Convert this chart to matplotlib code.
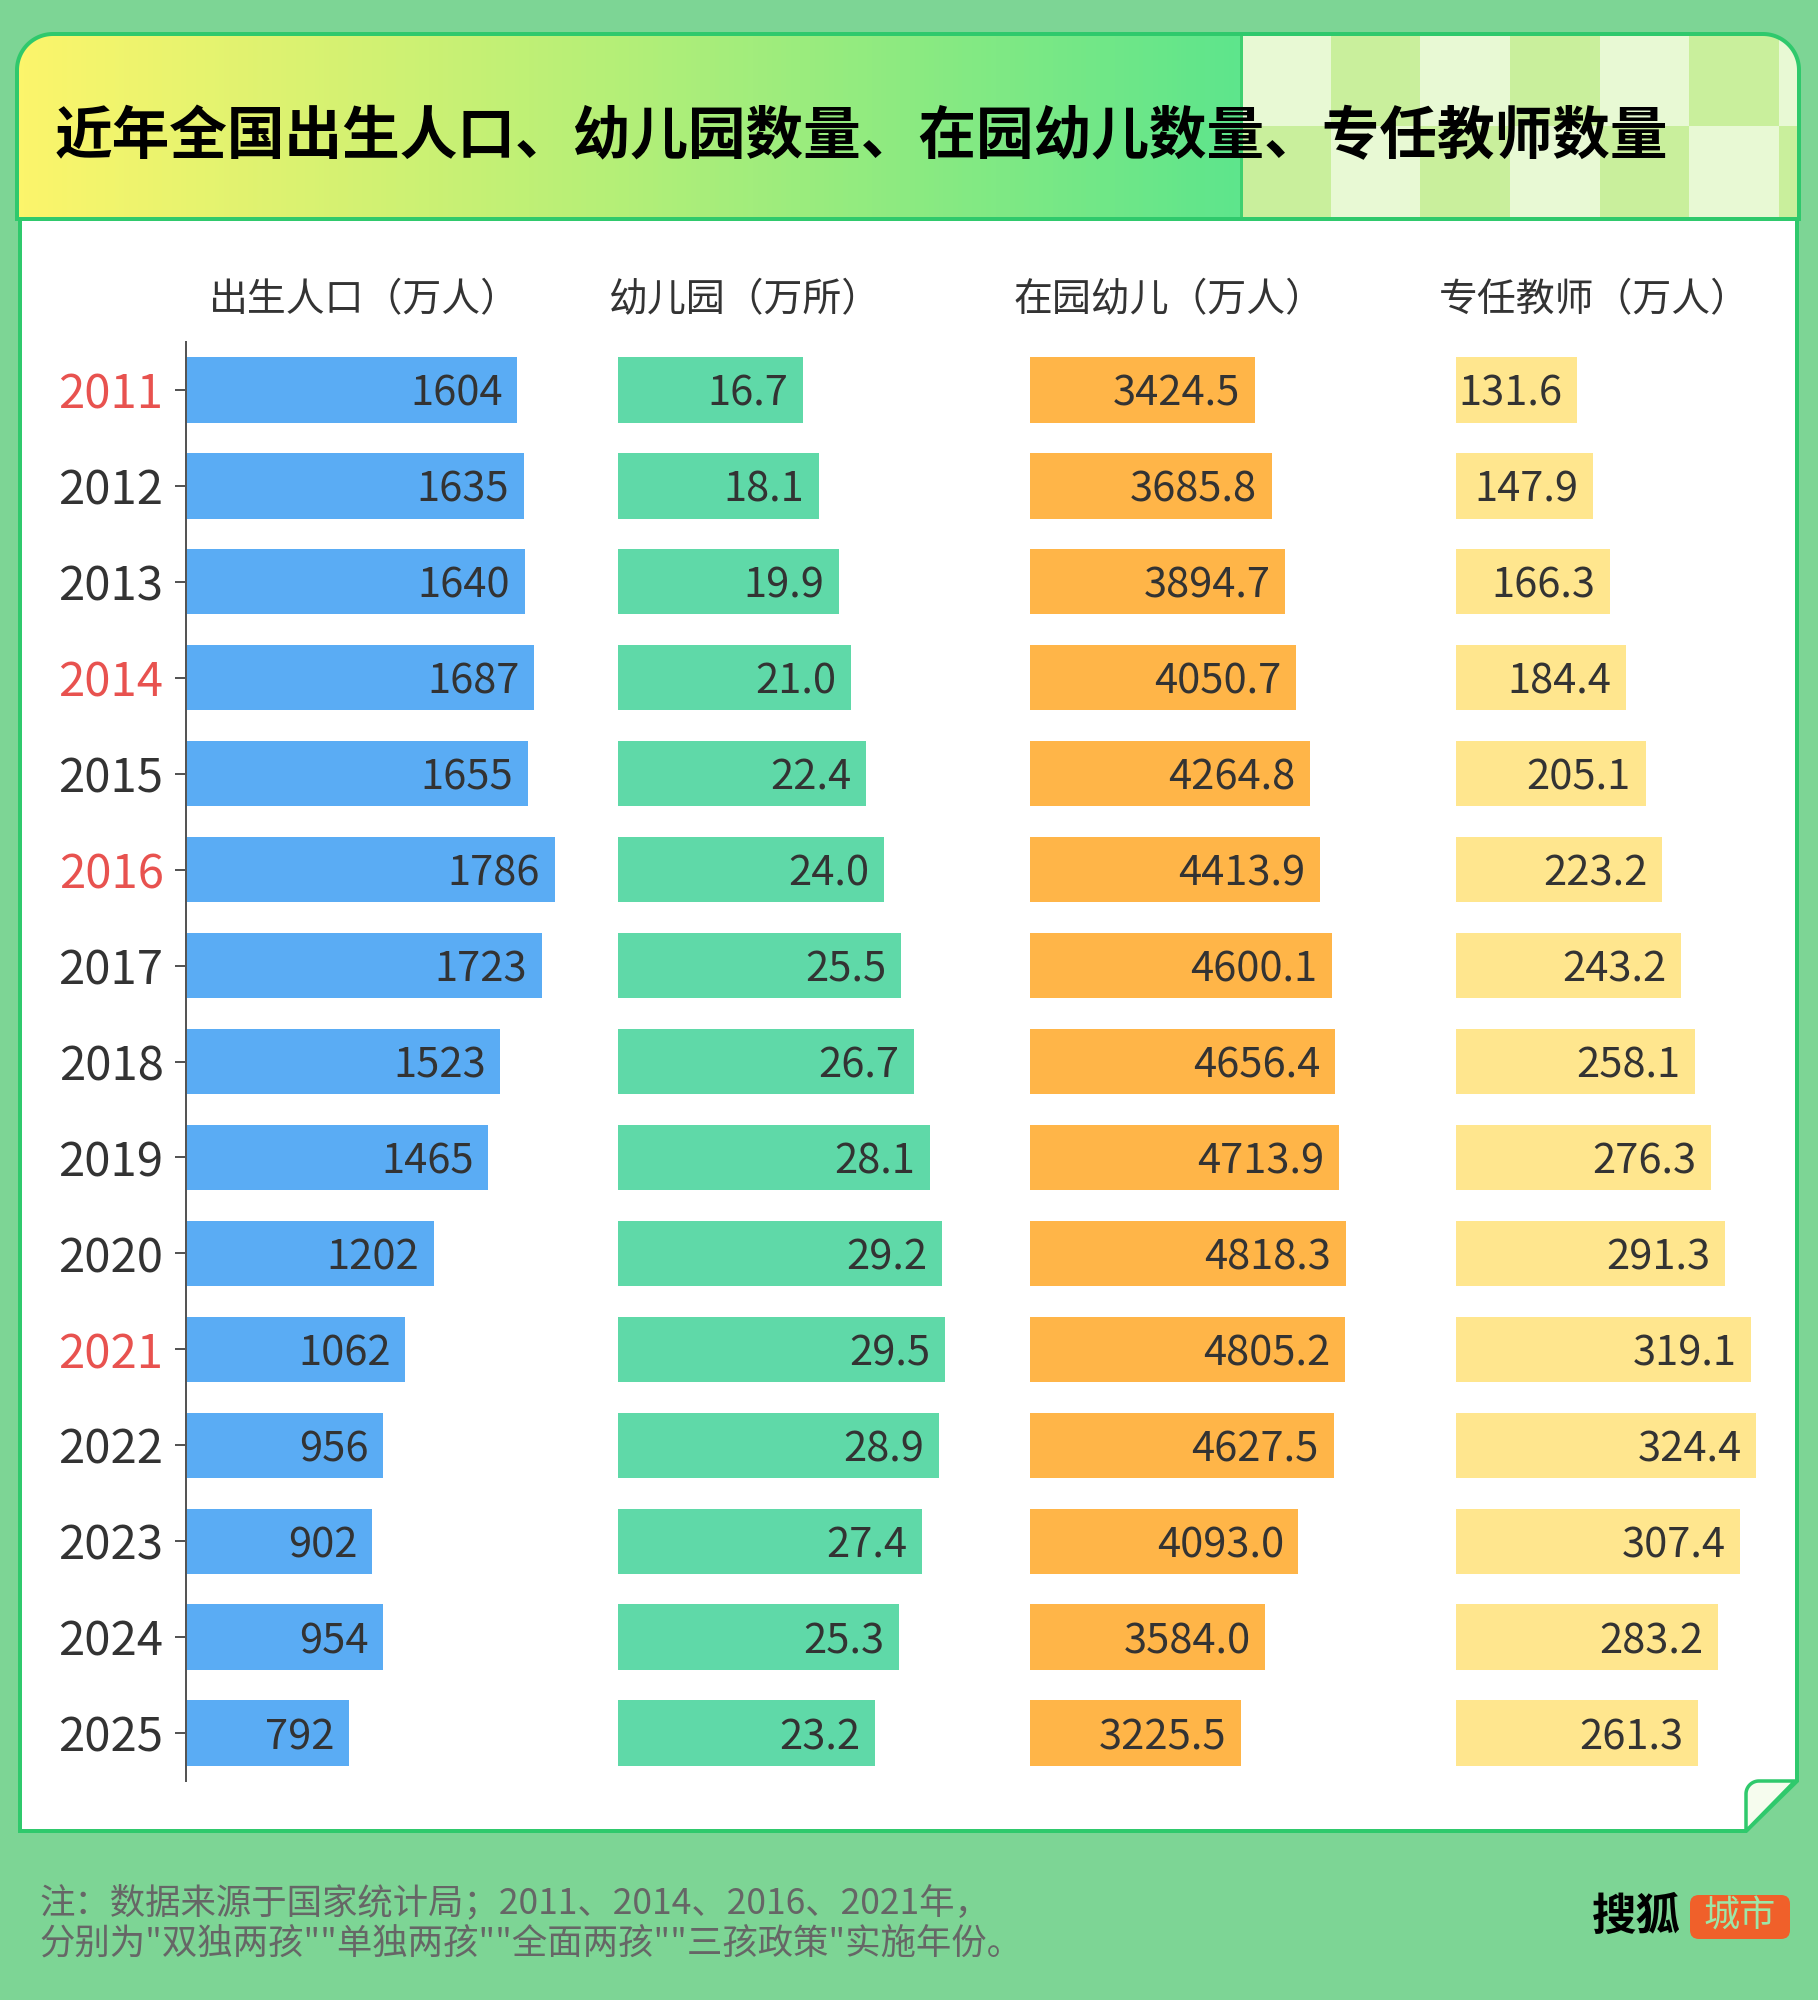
import numpy as np
import matplotlib
matplotlib.use('Agg')
import matplotlib.pyplot as plt
from matplotlib.patches import Polygon, FancyBboxPatch
from matplotlib.colors import LinearSegmentedColormap, ListedColormap

plt.rcParams['font.family'] = ['Noto Sans CJK SC', 'DejaVu Sans']

# ---------------- data ----------------
years = [2011, 2012, 2013, 2014, 2015, 2016, 2017, 2018, 2019, 2020,
         2021, 2022, 2023, 2024, 2025]
births = [1604, 1635, 1640, 1687, 1655, 1786, 1723, 1523, 1465, 1202,
          1062, 956, 902, 954, 792]
kindergartens = [16.7, 18.1, 19.9, 21.0, 22.4, 24.0, 25.5, 26.7, 28.1, 29.2,
                 29.5, 28.9, 27.4, 25.3, 23.2]
children = [3424.5, 3685.8, 3894.7, 4050.7, 4264.8, 4413.9, 4600.1, 4656.4,
            4713.9, 4818.3, 4805.2, 4627.5, 4093.0, 3584.0, 3225.5]
teachers = [131.6, 147.9, 166.3, 184.4, 205.1, 223.2, 243.2, 258.1, 276.3,
            291.3, 319.1, 324.4, 307.4, 283.2, 261.3]
policy_years = [2011, 2014, 2016, 2021]
headers = ['出生人口（万人）', '幼儿园（万所）', '在园幼儿（万人）', '专任教师（万人）']
title = '近年全国出生人口、幼儿园数量、在园幼儿数量、专任教师数量'
note_lines = ['注：数据来源于国家统计局；2011、2014、2016、2021年，',
              '分别为"双独两孩""单独两孩""全面两孩""三孩政策"实施年份。']

# ---------------- style ----------------
W, H, DPI = 1818, 2000, 100
BG = '#7dd595'
BORDER = '#2fc96c'
TXT = '#333333'
RED = '#e8524f'
col_colors = ['#5aacf4', '#5fd9a8', '#ffb548', '#ffe68e']
# (bar origin px, px per unit, axes width px)
col_geom = [(185.6, 0.2067, 420), (617.5, 11.11, 380),
            (1029.6, 0.06568, 400), (1455.5, 0.9264, 330)]
col_values = [births, kindergartens, children, teachers]
col_fmt = ['{:.0f}', '{:.1f}', '{:.1f}', '{:.1f}']
AX_TOP, AX_BOT = 342, 1781

fig = plt.figure(figsize=(W / DPI, H / DPI), dpi=DPI, facecolor=BG)
bg = fig.add_axes([0, 0, 1, 1])
bg.set_axis_off()


def px(v):
    return v * 72 / DPI


def arc(cx, cy, r, a0, a1, n=30):
    t = np.radians(np.linspace(a0, a1, n))
    return list(zip(cx + r * np.cos(t), cy + r * np.sin(t)))


# white panel with folded corner
panel = Polygon([(20, 219), (1797, 219), (1797, 1781), (1746, 1831), (20, 1831)],
                closed=True, facecolor='white', edgecolor=BORDER,
                linewidth=px(4), joinstyle='miter', zorder=1)
bg.add_patch(panel)
fold_pts = [(1746, 1831), (1746, 1794)] + arc(1759, 1794, 13, 180, 270) + [(1795, 1781)]
fold = Polygon(fold_pts, closed=True, facecolor='#f6fcee', edgecolor=BORDER,
               linewidth=px(3.5), joinstyle='round', zorder=2)
bg.add_patch(fold)

# banner
L, R, T, B, rr = 17, 1799, 34, 219, 36
ban_pts = [(L, B), (L, T + rr)] + arc(L + rr, T + rr, rr, 180, 270) + \
          [(R - rr, T)] + arc(R - rr, T + rr, rr, 270, 360) + [(R, B)]
banner = Polygon(ban_pts, closed=True, facecolor='none', edgecolor='none', zorder=3)
bg.add_patch(banner)
grad_cmap = LinearSegmentedColormap.from_list('g', ['#fcf56b', '#b3ef78', '#5ee58c'])
im = bg.imshow(np.linspace(0, 1, 256)[None, :], cmap=grad_cmap, aspect='auto',
               extent=(L, 1241, B, T), zorder=3, interpolation='bilinear')
im.set_clip_path(banner)
cw = 89.7
checker = np.array([[0, 1, 0, 1, 0, 1, 0], [1, 0, 1, 0, 1, 0, 1]])
im2 = bg.imshow(checker, cmap=ListedColormap(['#e8f9d4', '#c9ef9c']), aspect='auto',
                extent=(1241, 1241 + 7 * cw, B, T), origin='upper',
                interpolation='nearest', zorder=3)
im2.set_clip_path(banner)
bg.plot([1241, 1241], [T, B], color='#3fd070', lw=px(3), zorder=4)
banner_edge = Polygon(ban_pts, closed=True, facecolor='none', edgecolor=BORDER,
                      linewidth=px(4), zorder=5)
bg.add_patch(banner_edge)

bg.text(55, 137, title, fontsize=41.5, fontweight='heavy', color='black',
        ha='left', va='center', zorder=6)

# headers
for hx, txt in zip([209, 609, 1014, 1439], headers):
    bg.text(hx, 300, txt, fontsize=28, color=TXT, ha='left', va='center', zorder=6)

# footer
for k, line in enumerate(note_lines):
    bg.text(39, 1903 + 41 * k, line, fontsize=25.5, color='#666666',
            ha='left', va='center', zorder=6)

# logo
bg.text(1636, 1917, '搜狐', fontsize=32, fontweight='heavy', color='black',
        ha='center', va='center', zorder=6)
logo_box = FancyBboxPatch((1690, 1895), 100, 44,
                          boxstyle='round,pad=0,rounding_size=9',
                          facecolor='#f0602a', edgecolor='none', zorder=6)
bg.add_patch(logo_box)
bg.text(1740, 1917, '城市', fontsize=26, color='#9de6a8',
        ha='center', va='center', zorder=7)

bg.set_xlim(0, W)
bg.set_ylim(H, 0)

# ---------------- bar columns ----------------
ypos = np.arange(len(years))
for ci, (x0, ppu, wpx) in enumerate(col_geom):
    ax = fig.add_axes([x0 / W, 1 - AX_BOT / H, wpx / W, (AX_BOT - AX_TOP) / H])
    ax.set_facecolor('none')
    vals = col_values[ci]
    ax.barh(ypos, vals, height=0.68, color=col_colors[ci], zorder=2)
    ax.set_xlim(0, wpx / ppu)
    ax.set_ylim(len(years) - 0.5, -0.5)
    for s in ['top', 'right', 'bottom']:
        ax.spines[s].set_visible(False)
    ax.set_xticks([])
    for i, v in enumerate(vals):
        ax.annotate(col_fmt[ci].format(v), xy=(v, i), xytext=(-10.5, 0),
                    textcoords='offset points', ha='right', va='center_baseline',
                    fontsize=30, fontweight='medium', color=TXT, zorder=3)
    if ci == 0:
        ax.spines['left'].set_color('#555555')
        ax.spines['left'].set_linewidth(px(2))
        ax.set_yticks(ypos)
        ax.set_yticklabels([str(y) for y in years])
        ax.tick_params(axis='y', length=px(11), width=px(2), color='#555555',
                       pad=8, labelsize=34)
        for lbl, yr in zip(ax.get_yticklabels(), years):
            lbl.set_color(RED if yr in policy_years else TXT)
            lbl.set_fontweight('medium')
    else:
        ax.spines['left'].set_visible(False)
        ax.set_yticks([])

fig.savefig('out.png', dpi=DPI, facecolor=BG)
